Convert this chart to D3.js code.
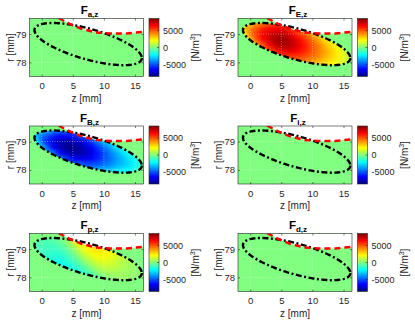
<!DOCTYPE html>
<html lang="en">
<head>
<meta charset="UTF-8">
<title>Force density components</title>
<script src="https://cdn.jsdelivr.net/npm/d3@7"></script>
<style>
    body { margin: 0; background: #fff; }
    svg { display: block; font-family: "Liberation Sans", Arial, sans-serif; }
    .tick text { font-size: 9.5px; fill: #262626; }
    .lbl { font-size: 10px; fill: #262626; }
</style>
</head>
<body>
<svg id="fig" width="415" height="321"></svg>
<script>
// axis ranges and ticks
var zDomain = [-1.96, 16.37];
var rDomain = [77.5, 79.55];
var zTicks = [0, 5, 10, 15];
var rTicks = [78, 79];
var cLim = [-8500, 8500];
var cbTicks = [-5000, 0, 5000];

// field sample grid (z in mm, r in mm), values in kN/m^3
var gridZ = [-1, 0, 1, 2, 3, 4, 5, 6, 7, 8, 9, 10, 11, 12, 13, 14, 15, 16];
var gridR = [79.4, 79.2, 79.0, 78.8, 78.6, 78.4, 78.2, 78.0, 77.8];

var fieldE = [
    [2.3, 2.9, 3.6, 4.2, 4.7, 5.1, 5.2, 5.1, 4.7, 4.2, 3.8, 3.3, 2.8, 2.3, 2.0, 1.6, 1.2, 0.8],
    [3.0, 4.2, 5.0, 5.8, 6.2, 6.4, 6.4, 5.8, 4.9, 4.2, 3.8, 3.3, 2.8, 2.3, 2.0, 1.6, 1.2, 0.8],
    [2.3, 4.4, 5.5, 6.5, 7.1, 7.5, 7.6, 7.2, 6.3, 5.5, 4.5, 3.5, 2.8, 2.3, 2.0, 1.6, 1.2, 0.8],
    [2.3, 3.1, 4.9, 6.2, 7.1, 7.8, 8.0, 7.8, 7.1, 6.2, 5.4, 4.5, 3.5, 2.7, 2.0, 1.6, 1.2, 0.8],
    [2.3, 2.9, 3.6, 4.9, 6.2, 7.2, 7.7, 7.6, 7.2, 6.5, 5.8, 4.9, 4.2, 3.4, 2.6, 1.7, 1.2, 0.8],
    [2.3, 2.9, 3.6, 4.2, 4.7, 5.8, 6.5, 6.8, 6.6, 6.2, 5.6, 4.9, 4.3, 3.6, 3.0, 2.3, 1.5, 0.8],
    [2.3, 2.9, 3.6, 4.2, 4.7, 5.1, 5.2, 5.3, 5.4, 5.2, 4.9, 4.5, 4.0, 3.4, 2.9, 2.4, 1.8, 1.1],
    [2.3, 2.9, 3.6, 4.2, 4.7, 5.1, 5.2, 5.1, 4.7, 4.2, 3.8, 3.5, 3.2, 2.8, 2.4, 1.9, 1.4, 0.8],
    [2.3, 2.9, 3.6, 4.2, 4.7, 5.1, 5.2, 5.1, 4.7, 4.2, 3.8, 3.3, 2.8, 2.3, 2.0, 1.6, 1.2, 0.8]
];

var fieldB = [
    [-2.2, -2.75, -3.3, -3.85, -4.3, -4.5, -4.6, -4.4, -4.1, -3.7, -3.3, -2.9, -2.5, -2.1, -1.8, -1.5, -1.2, -0.9],
    [-3.3, -4.5, -5.3, -6.0, -6.4, -6.3, -6.1, -5.4, -4.4, -3.7, -3.3, -2.9, -2.5, -2.1, -1.8, -1.5, -1.2, -0.9],
    [-2.2, -4.85, -6.0, -7.0, -7.6, -7.9, -7.7, -7.1, -6.3, -5.4, -4.3, -3.2, -2.5, -2.1, -1.8, -1.5, -1.2, -0.9],
    [-2.2, -2.95, -5.1, -6.6, -7.6, -8.2, -8.3, -8.0, -7.3, -6.5, -5.5, -4.5, -3.5, -2.5, -1.8, -1.5, -1.2, -0.9],
    [-2.2, -2.75, -3.3, -4.8, -6.4, -7.4, -7.8, -7.8, -7.5, -6.8, -6.0, -5.1, -4.3, -3.5, -2.6, -1.7, -1.2, -0.9],
    [-2.2, -2.75, -3.3, -3.85, -4.3, -5.5, -6.4, -6.7, -6.7, -6.3, -5.8, -5.1, -4.5, -3.8, -3.2, -2.5, -1.8, -0.9],
    [-2.2, -2.75, -3.3, -3.85, -4.3, -4.5, -4.6, -4.7, -5.1, -5.1, -4.9, -4.5, -4.1, -3.5, -3.1, -2.7, -2.2, -1.4],
    [-2.2, -2.75, -3.3, -3.85, -4.3, -4.5, -4.6, -4.4, -4.1, -3.7, -3.3, -3.2, -3.0, -2.7, -2.3, -2.1, -1.5, -0.9],
    [-2.2, -2.75, -3.3, -3.85, -4.3, -4.5, -4.6, -4.4, -4.1, -3.7, -3.3, -2.9, -2.5, -2.1, -1.8, -1.5, -1.2, -0.9]
];

var fieldP = [
    [-0.8, -0.8, -0.7, -0.5, -0.2, 0.5, 1.5, 2.3, 2.8, 3.0, 3.0, 2.7, 2.2, 1.6, 1.1, 0.7, 0.4, 0.2],
    [-0.8, -0.9, -0.95, -0.85, -0.55, 0.07, 1.0, 2.0, 2.7, 3.0, 3.0, 2.7, 2.2, 1.6, 1.1, 0.7, 0.4, 0.2],
    [-0.8, -1.0, -1.15, -1.2, -1.0, -0.5, 0.28, 1.23, 2.0, 2.42, 2.7, 2.6, 2.2, 1.6, 1.1, 0.7, 0.4, 0.2],
    [-0.8, -1.1, -1.3, -1.45, -1.4, -1.0, -0.46, 0.47, 1.26, 1.78, 2.16, 2.17, 1.94, 1.51, 1.1, 0.7, 0.4, 0.2],
    [-0.8, -1.1, -1.4, -1.65, -1.7, -1.45, -1.0, -0.28, 0.51, 1.11, 1.6, 1.73, 1.58, 1.26, 0.95, 0.68, 0.4, 0.2],
    [-0.8, -1.1, -1.4, -1.7, -1.9, -1.85, -1.5, -0.96, -0.37, 0.34, 0.92, 1.18, 1.2, 1.0, 0.76, 0.57, 0.35, 0.2],
    [-0.8, -1.1, -1.4, -1.7, -1.9, -2.0, -1.9, -1.6, -1.13, -0.45, 0.2, 0.55, 0.69, 0.68, 0.58, 0.46, 0.3, 0.2],
    [-0.8, -1.1, -1.4, -1.7, -1.9, -2.0, -1.9, -1.7, -1.5, -1.0, -0.5, -0.1, 0.18, 0.35, 0.39, 0.35, 0.22, 0.2],
    [-0.8, -1.1, -1.4, -1.7, -1.9, -2.0, -1.9, -1.7, -1.5, -1.0, -0.5, -0.2, 0.0, 0.2, 0.3, 0.3, 0.2, 0.2]
];

// plasma boundary (tilted ellipse) and wall line
var ellipse = {zc: 7.47, rc: 78.645, hz: 8.63, hr: 0.745, tilt: 0.85};
var wallZ = [2.75, 4.5, 6.2, 8.6, 11.0, 13.7, 16.37];
var wallR = [79.56, 79.36, 79.2, 79.06, 79.02, 79.02, 79.08];

var panels = [
    {sub: "a,z", field: null},
    {sub: "E,z", field: fieldE},
    {sub: "B,z", field: fieldB},
    {sub: "i,z", field: null},
    {sub: "p,z", field: fieldP},
    {sub: "d,z", field: null}
];

// layout
var colX = [29.5, 238];
var rowY = [18.5, 126, 233.5];
var pw = 114, ph = 58;

function jet(v) {
    v = Math.max(0, Math.min(1, v));
    function c(k) { return Math.round(255 * Math.max(0, Math.min(1, 1.5 - Math.abs(4 * v - k)))); }
    return [c(3), c(2), c(1)];
}
var cNorm = d3.scaleLinear().domain(cLim).range([0, 1]).clamp(true);
function jetCss(val) { var c = jet(cNorm(val)); return "rgb(" + c.join(",") + ")"; }

var x = d3.scaleLinear().domain(zDomain).range([0, pw]);
var y = d3.scaleLinear().domain(rDomain).range([ph, 0]);

var svg = d3.select("#fig");
var defs = svg.append("defs");

// jet gradient for colorbars
var grad = defs.append("linearGradient").attr("id", "jetGrad")
    .attr("x1", 0).attr("y1", 1).attr("x2", 0).attr("y2", 0);
[0, 0.125, 0.375, 0.625, 0.875, 1].forEach(function(s) {
    grad.append("stop").attr("offset", s).attr("stop-color", "rgb(" + jet(s).join(",") + ")");
});

// ellipse path, in local axes coords
var tSteps = d3.range(0, 2 * Math.PI + 0.001, Math.PI / 90);
var ellLine = d3.line()
    .x(function(t) { return x(ellipse.zc + ellipse.hz * Math.cos(t)); })
    .y(function(t) { return y(ellipse.rc - ellipse.hr * Math.cos(t - ellipse.tilt)); });
var ellD = ellLine(tSteps) + "Z";

defs.append("clipPath").attr("id", "ellClip").append("path").attr("d", ellD);

var wallPts = wallZ.map(function(z, i) { return [z, wallR[i]]; });
var wallLine = d3.line().x(function(d) { return x(d[0]); }).y(function(d) { return y(d[1]); });
var gapPts = wallPts.concat([[zDomain[1], rDomain[1]], [wallZ[0], rDomain[1]]]);

function fieldImage(field) {
    var cv = document.createElement("canvas");
    cv.width = gridZ.length; cv.height = gridR.length;
    var ctx = cv.getContext("2d");
    var img = ctx.createImageData(cv.width, cv.height);
    gridR.forEach(function(r, i) {
        gridZ.forEach(function(z, j) {
            var c = jet(cNorm(field[i][j] * 1000));
            var k = 4 * (i * cv.width + j);
            img.data[k] = c[0]; img.data[k + 1] = c[1]; img.data[k + 2] = c[2]; img.data[k + 3] = 255;
        });
    });
    ctx.putImageData(img, 0, 0);
    return cv.toDataURL();
}

panels.forEach(function(p, i) {
    var col = i % 2, row = Math.floor(i / 2);
    var g = svg.append("g").attr("transform", "translate(" + colX[col] + "," + rowY[row] + ")");

    // background = zero level
    g.append("rect").attr("width", pw).attr("height", ph).attr("fill", jetCss(0));

    if (p.field) {
        var dz = 0.5, dr = 0.1;
        g.append("image")
            .attr("href", fieldImage(p.field))
            .attr("preserveAspectRatio", "none")
            .attr("x", x(gridZ[0] - dz))
            .attr("y", y(gridR[0] + dr))
            .attr("width", x(gridZ[gridZ.length - 1] + dz) - x(gridZ[0] - dz))
            .attr("height", y(gridR[gridR.length - 1] - dr) - y(gridR[0] + dr))
            .attr("clip-path", "url(#ellClip)");
    }

    // no-data region above the wall
    g.append("path").attr("d", wallLine(gapPts) + "Z").attr("fill", "#fff");

    // grid
    g.selectAll(".gz").data(zTicks).enter().append("line")
        .attr("x1", function(d) { return x(d); }).attr("x2", function(d) { return x(d); })
        .attr("y1", 0).attr("y2", ph)
        .attr("stroke", "#fff").attr("stroke-width", 0.7).attr("stroke-dasharray", "1,1.5").attr("opacity", 0.6);
    g.selectAll(".gr").data(rTicks).enter().append("line")
        .attr("y1", function(d) { return y(d); }).attr("y2", function(d) { return y(d); })
        .attr("x1", 0).attr("x2", pw)
        .attr("stroke", "#fff").attr("stroke-width", 0.7).attr("stroke-dasharray", "1,1.5").attr("opacity", 0.6);

    // plasma boundary and wall
    g.append("path").attr("d", ellD).attr("fill", "none")
        .attr("stroke", "#000").attr("stroke-width", 2.4)
        .attr("stroke-dasharray", "6,2.5,2,2.5");
    var clipId = "pclip" + i;
    defs.append("clipPath").attr("id", clipId).append("rect").attr("width", pw).attr("height", ph);
    g.append("path").attr("d", wallLine(wallPts)).attr("fill", "none")
        .attr("clip-path", "url(#" + clipId + ")")
        .attr("stroke", "#ff0000").attr("stroke-width", 2.5)
        .attr("stroke-dasharray", "6,4");

    // box
    g.append("rect").attr("width", pw).attr("height", ph).attr("fill", "none")
        .attr("stroke", "#262626").attr("stroke-width", 0.6);

    // axes
    g.append("g").attr("transform", "translate(0," + ph + ")")
        .call(d3.axisBottom(x).tickValues(zTicks).tickSizeInner(-2).tickSizeOuter(0).tickPadding(6));
    g.append("g")
        .call(d3.axisLeft(y).tickValues(rTicks).tickFormat(d3.format("d"))
            .tickSizeInner(-2).tickSizeOuter(0).tickPadding(3));
    g.append("g").call(d3.axisTop(x).tickValues(zTicks).tickSizeInner(-2).tickSizeOuter(0).tickFormat(""));
    g.append("g").attr("transform", "translate(" + pw + ",0)")
        .call(d3.axisRight(y).tickValues(rTicks).tickSizeInner(-2).tickSizeOuter(0).tickFormat(""));
    g.selectAll(".domain").remove();
    g.selectAll(".tick line").attr("stroke", "#262626").attr("stroke-width", 0.6);

    g.append("text").attr("class", "lbl")
        .attr("x", pw / 2).attr("y", ph + 25)
        .attr("text-anchor", "middle").text("z [mm]");
    g.append("text").attr("class", "lbl")
        .attr("transform", "translate(-16," + (ph / 2) + ") rotate(-90)")
        .attr("text-anchor", "middle").text("r [mm]");

    // title
    var t = g.append("text").attr("x", pw / 2 + 3).attr("y", -4.5)
        .attr("text-anchor", "middle").attr("font-weight", "bold").attr("fill", "#000");
    t.append("tspan").attr("font-size", "11.5px").text("F");
    t.append("tspan").attr("font-size", "8px").attr("dy", 3).text(p.sub);

    // colorbar
    var cbx = pw + 5.5, cbw = 10;
    var cy = d3.scaleLinear().domain(cLim).range([ph, 0]);
    g.append("rect").attr("x", cbx).attr("y", 0).attr("width", cbw).attr("height", ph)
        .attr("fill", "url(#jetGrad)").attr("stroke", "#262626").attr("stroke-width", 0.6);
    g.selectAll(".cbt").data(cbTicks).enter().append("line")
        .attr("x1", cbx + cbw - 2).attr("x2", cbx + cbw)
        .attr("y1", function(d) { return cy(d); }).attr("y2", function(d) { return cy(d); })
        .attr("stroke", "#262626").attr("stroke-width", 0.6);
    g.selectAll(".cbl").data(cbTicks).enter().append("text")
        .attr("x", cbx + 14).attr("y", function(d) { return cy(d); })
        .attr("dy", "0.35em").attr("font-size", "9px").attr("fill", "#262626")
        .text(function(d) { return d; });
    var cl = g.append("text").attr("class", "lbl")
        .attr("transform", "translate(" + (cbx + 50) + "," + (ph / 2) + ") rotate(-90)")
        .attr("text-anchor", "middle").attr("fill", "#404040").attr("font-size", "9.5px");
    cl.append("tspan").text("[N/m");
    cl.append("tspan").attr("font-size", "7px").attr("dy", -4).text("3");
    cl.append("tspan").attr("dy", 4).text("]");
});
</script>
</body>
</html>
